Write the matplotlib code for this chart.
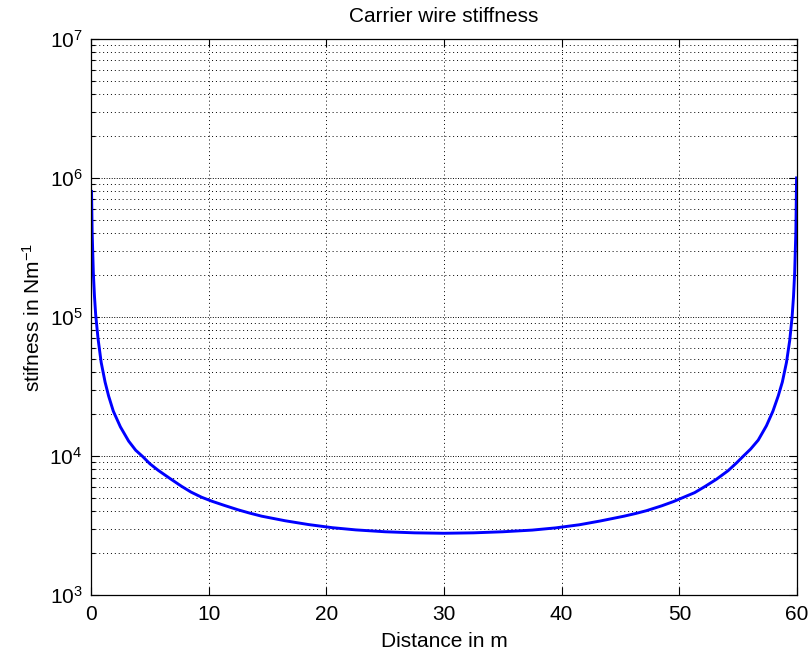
import matplotlib
matplotlib.use("Agg")
import matplotlib.pyplot as plt
from matplotlib.ticker import LogLocator, FixedLocator, NullFormatter

plt.rcParams['font.family'] = ['Liberation Sans', 'DejaVu Sans']
plt.rcParams['mathtext.default'] = 'regular'

distance = [0.05, 0.1, 0.2, 0.3, 0.4, 0.6, 0.87, 1.2, 1.5, 1.9, 2.5, 3.2, 3.8, 4.4,
            5.0, 5.7, 6.7, 7.7, 8.5, 9.4, 10.3, 11.3, 12.5, 13.5, 14.5, 16.5, 18.5, 20.5,
            22.5, 25.0, 27.5, 30.0, 32.5, 35.0, 37.5, 39.5, 41.5, 43.3, 45.3, 46.3, 47.2,
            48.5, 49.5, 50.3, 51.3, 52.2, 53.15, 54.15, 54.85, 55.45, 56.05, 56.7,
            57.4, 57.95, 58.4, 58.75, 59.1, 59.38, 59.58, 59.7, 59.8, 59.9, 59.96]
stiffness = [8.0e5, 4.1e5, 2.1e5, 1.4e5, 1.04e5, 7.0e4, 4.7e4, 3.4e4, 2.7e4, 2.1e4,
             1.62e4, 1.28e4, 1.1e4, 9.9e3, 8.8e3, 7.9e3, 6.9e3, 6.05e3, 5.5e3, 5.05e3,
             4.72e3, 4.42e3, 4.1e3, 3.88e3, 3.69e3, 3.42e3, 3.21e3, 3.05e3, 2.94e3,
             2.85e3, 2.8e3, 2.78e3, 2.8e3, 2.85e3, 2.93e3, 3.04e3, 3.2e3, 3.41e3,
             3.69e3, 3.86e3, 4.04e3, 4.38e3, 4.7e3, 5.02e3, 5.45e3, 6.05e3, 6.8e3,
             7.85e3, 8.9e3, 1.0e4, 1.12e4, 1.3e4, 1.65e4, 2.1e4, 2.7e4, 3.4e4, 4.7e4,
             6.8e4, 1.0e5, 1.4e5, 2.1e5, 4.1e5, 1.0e6]
xticks = [0, 10, 20, 30, 40, 50, 60]

fig = plt.figure(figsize=(8.1, 6.55), dpi=100)
ax = fig.add_axes([0.1123, 0.0916, 0.8717, 0.849])
ax.plot(distance, stiffness, color=(0, 0, 1), lw=2.1, solid_joinstyle='round')
ax.set_yscale('log')
ax.set_xlim(0, 60)
ax.set_ylim(1e3, 1e7)
ax.xaxis.set_major_locator(FixedLocator(xticks))
ax.yaxis.set_major_locator(LogLocator(base=10, numticks=10))
ax.yaxis.set_minor_locator(LogLocator(base=10, subs=range(2, 10), numticks=20))
ax.yaxis.set_minor_formatter(NullFormatter())

ax.grid(True, which='major', axis='x', color='black', linestyle=(0, (1, 3)), linewidth=0.7)
ax.grid(True, which='major', axis='y', color='black', linestyle=(0, (1, 1.6)), linewidth=0.7)
ax.grid(True, which='minor', axis='y', color='black', linestyle=(0, (1, 3)), linewidth=0.7)

ax.tick_params(which='both', direction='in', top=True, right=True, labelsize=15, width=0.8)
ax.tick_params(which='major', length=6)
ax.tick_params(which='minor', length=3)
ax.tick_params(axis='x', pad=7)
ax.tick_params(axis='y', pad=6)
for s in ax.spines.values():
    s.set_linewidth(0.9)

ax.set_title('Carrier wire stiffness', fontsize=15, pad=12)
ax.set_xlabel('Distance in m', fontsize=15, labelpad=6)
ax.set_ylabel('stifness in Nm$^{-1}$', fontsize=15, labelpad=4)

fig.savefig('out.png', dpi=100)
